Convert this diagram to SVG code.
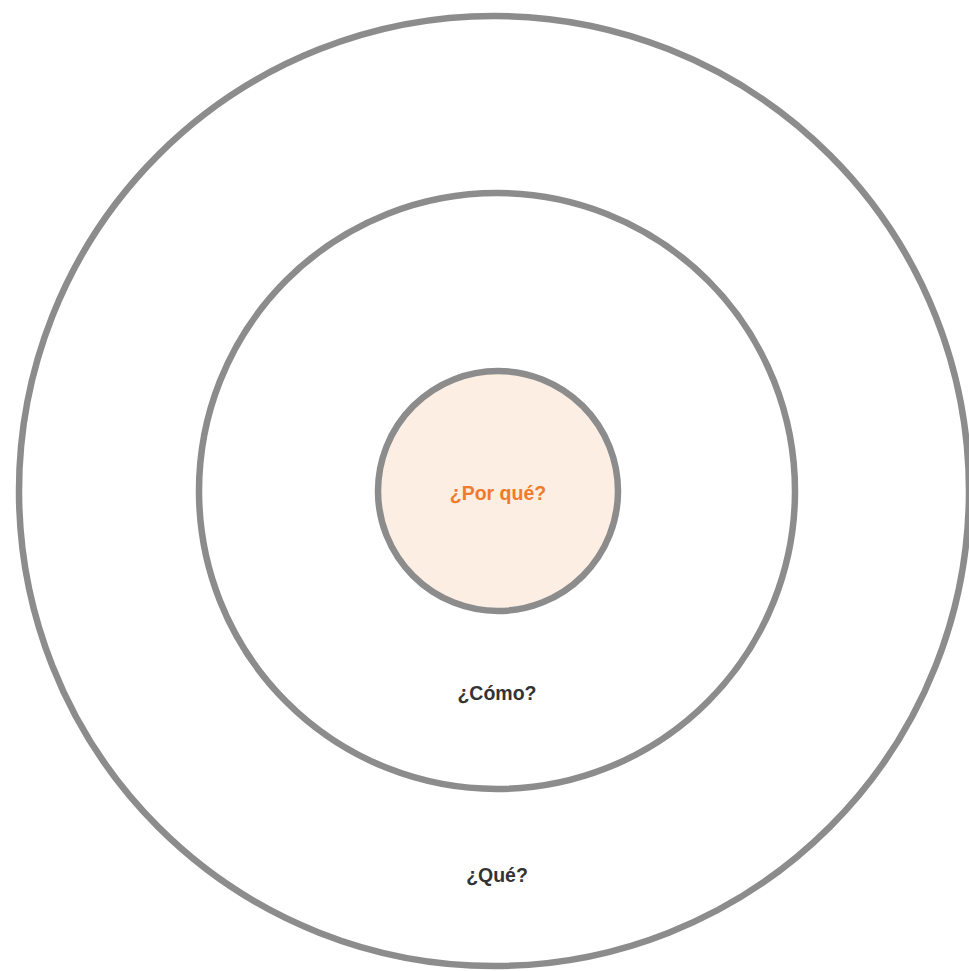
<svg xmlns="http://www.w3.org/2000/svg" width="969" height="971" viewBox="0 0 969 971">
<style>
.ring{fill:none;stroke:#8c8c8c;stroke-width:6.5}
.lbl{font-family:"Liberation Sans",Arial,sans-serif;font-weight:bold;font-size:19.5px;text-anchor:middle}
</style>
<rect width="969" height="971" fill="#ffffff"/>
<g id="que">
<circle class="ring" cx="494" cy="491" r="475"/>
<text class="lbl" x="497" y="882" fill="#333333">¿Qué?</text>
</g>
<g id="como">
<circle class="ring" cx="497" cy="491" r="298"/>
<text class="lbl" x="497" y="700" fill="#333333">¿Cómo?</text>
</g>
<g id="porque">
<circle cx="498" cy="491" r="120" fill="#fdeee3" stroke="#8c8c8c" stroke-width="6.5"/>
<text class="lbl" x="498" y="500" fill="#f07c2a">¿Por qué?</text>
</g>
<g id="connectors"></g>
</svg>
